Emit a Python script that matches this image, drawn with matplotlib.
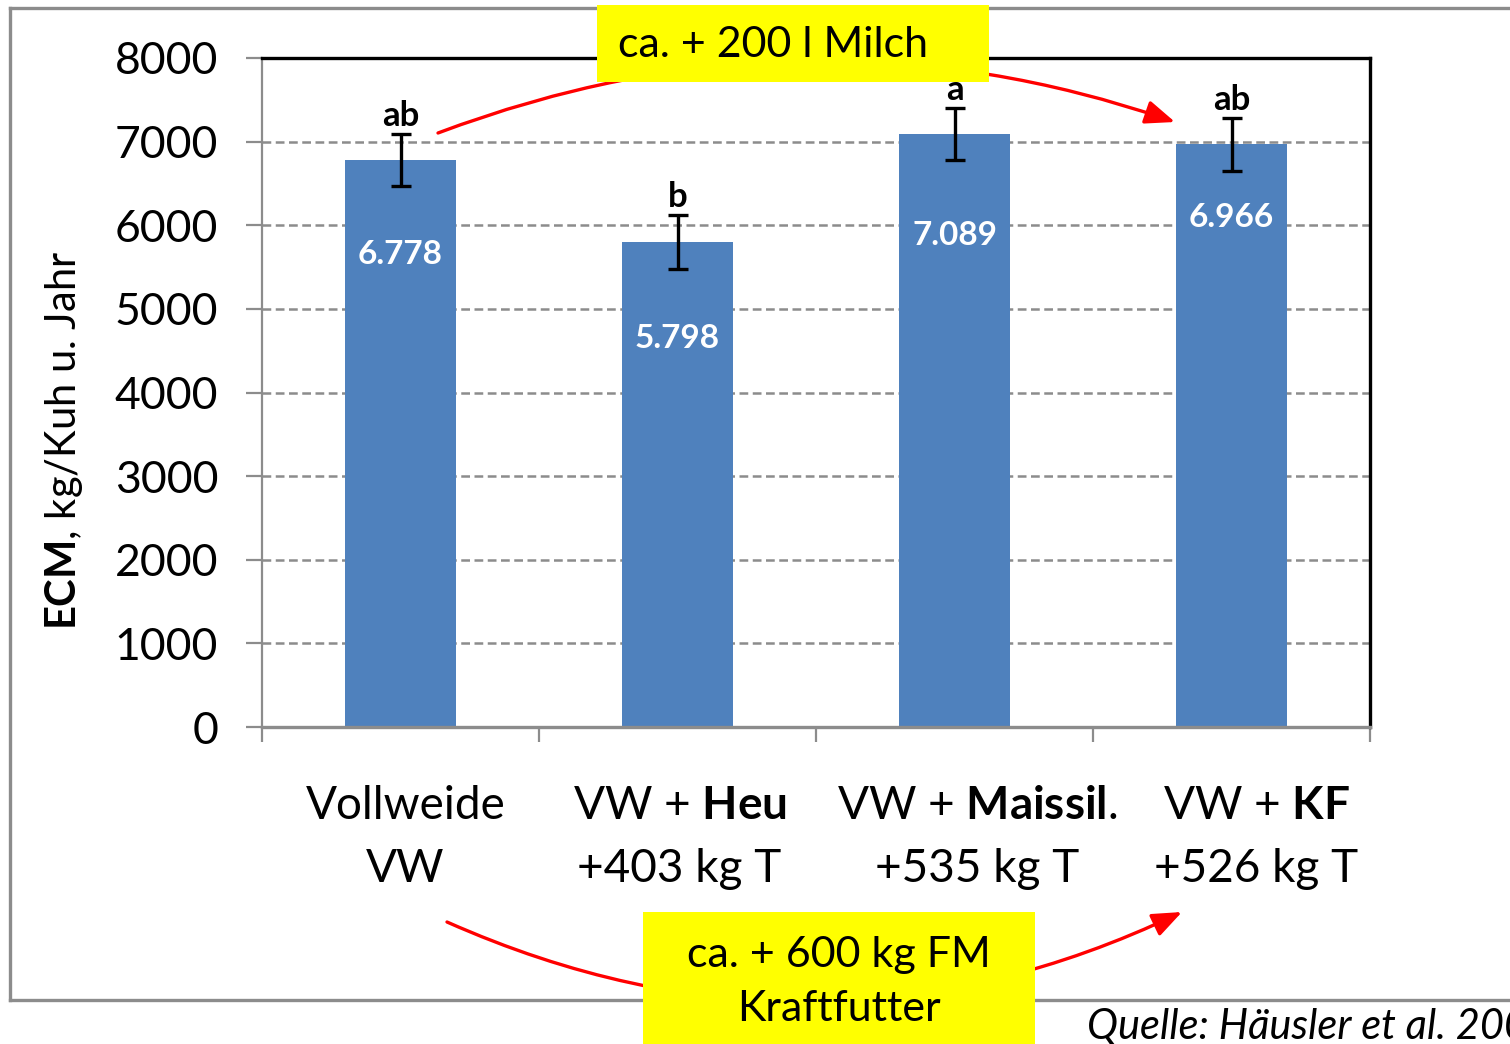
import numpy as np
import matplotlib
matplotlib.use("Agg")
import matplotlib.pyplot as plt
from matplotlib.patches import Rectangle, FancyArrowPatch
from matplotlib.lines import Line2D
from matplotlib.transforms import ScaledTranslation

plt.rcParams.update({
    'font.family': ['Lato', 'DejaVu Sans'],
    'mathtext.fontset': 'custom',
    'mathtext.rm': 'Lato',
    'mathtext.bf': 'Lato:bold',
    'mathtext.it': 'Lato:italic',
})

# ---- data ----
categories = ["Vollweide\nVW",
              "VW + $\\mathbf{Heu}$\n+403 kg T",
              "VW + $\\mathbf{Maissil}$.\n+535 kg T",
              "VW + $\\mathbf{KF}$\n+526 kg T"]
ecm = [6778, 5798, 7089, 6966]
ecm_err = [310, 320, 310, 315]
value_labels = ["6.778", "5.798", "7.089", "6.966"]
sig_letters = ["ab", "b", "a", "ab"]
# where the white value labels sit inside the bars (data units)
value_label_y = [5650, 4650, 5880, 6090]
# small horizontal nudges of the category labels (pixels)
label_dx = [5, 2, 23, 25]

W, H = 1510, 1044
fig = plt.figure(figsize=(W / 100, H / 100), dpi=100)


def px(x, y):
    # figure pixel (top-left origin) -> figure fraction
    return (x / W, 1 - y / H)


ax = fig.add_axes([262 / W, (H - 727) / H, (1370 - 262) / W, (727 - 58) / H])
x = np.arange(len(ecm))
bar_col = "#4F81BD"
grey = "#8C8C8C"

ax.bar(x, ecm, width=0.4, color=bar_col, zorder=2)
ax.errorbar(x, ecm, yerr=ecm_err, fmt="none", ecolor="black", elinewidth=2.4,
            capsize=7, capthick=2.4, zorder=3)

for i in range(len(ecm)):
    ax.text(x[i], value_label_y[i], value_labels[i], color="white", fontsize=24,
            fontweight="bold", ha="center", va="center", zorder=4)
    ax.text(x[i], ecm[i] + ecm_err[i] + 95, sig_letters[i], color="black",
            fontsize=25, fontweight="bold", ha="center", va="baseline", zorder=4)

ax.set_xlim(-0.5, len(ecm) - 0.5)
ax.set_ylim(0, 8000)
ax.set_yticks(np.arange(0, 8001, 1000))
ax.tick_params(axis="y", labelsize=32, length=11.5, width=1.6, color=grey, pad=20)
ax.yaxis.grid(True, ls=(0, (3.5, 1.8)), color=grey, lw=1.8)
ax.set_axisbelow(True)

# category boundary ticks (major) and labels at centres (minor)
ax.set_xticks(np.arange(-0.5, len(ecm), 1.0))
ax.set_xticklabels([])
ax.tick_params(axis="x", which="major", length=11, width=1.6, color=grey)
ax.set_xticks(x, minor=True)
ax.set_xticklabels(categories, minor=True, fontsize=33, linespacing=1.6)
ax.tick_params(axis="x", which="minor", length=0, pad=42)
for lab, dx in zip(ax.get_xticklabels(minor=True), label_dx):
    lab.set_transform(lab.get_transform() + ScaledTranslation(dx / 100, 0, fig.dpi_scale_trans))

ax.spines["left"].set_color(grey)
ax.spines["left"].set_linewidth(1.6)
ax.spines["bottom"].set_color(grey)
ax.spines["bottom"].set_linewidth(2.4)
for s in ("top", "right"):
    ax.spines[s].set_color("black")
    ax.spines[s].set_linewidth(2.4)

fig.text(*px(64, 440), "$\\mathbf{ECM}$, kg/Kuh u. Jahr", rotation=90,
         fontsize=30, ha="center", va="center")

# outer slide frame
for (xa, ya), (xb, yb) in [((10, 8), (1510, 8)), ((10, 8), (10, 1000)),
                            ((10, 1000), (1510, 1000))]:
    fig.add_artist(Line2D([xa / W, xb / W], [1 - ya / H, 1 - yb / H],
                          transform=fig.transFigure, color=grey, lw=2.4, zorder=1))

# red arrows (drawn under the yellow boxes)
red_kw = dict(transform=fig.transFigure, arrowstyle="-|>,head_length=1.0,head_width=0.4",
              mutation_scale=18, color="#FF0000", lw=2.4, shrinkA=0, shrinkB=0, zorder=5)
fig.add_artist(FancyArrowPatch(px(438, 133), px(1175, 122),
                               connectionstyle="arc3,rad=-0.18", **red_kw))
fig.add_artist(FancyArrowPatch(px(447, 922), px(1182, 912),
                               connectionstyle="arc3,rad=0.23", **red_kw))

# yellow boxes
fig.add_artist(Rectangle(px(597, 82), (989 - 597) / W, (82 - 5) / H,
                         transform=fig.transFigure, facecolor="#FFFF00",
                         edgecolor="none", zorder=6))
fig.text(*px(773, 45), "ca. + 200 l Milch", fontsize=31, ha="center", va="center", zorder=7)

fig.add_artist(Rectangle(px(643, 1044), (1035 - 643) / W, (1044 - 912) / H,
                         transform=fig.transFigure, facecolor="#FFFF00",
                         edgecolor="none", zorder=6))
fig.text(*px(839, 982), "ca. + 600 kg FM\nKraftfutter", fontsize=31, ha="center",
         va="center", linespacing=1.5, zorder=7)

fig.text(*px(1087, 1027), "Quelle: Häusler et al. 2009", fontsize=30, style="italic",
         ha="left", va="center", zorder=7)

fig.savefig("out.png", dpi=100)
